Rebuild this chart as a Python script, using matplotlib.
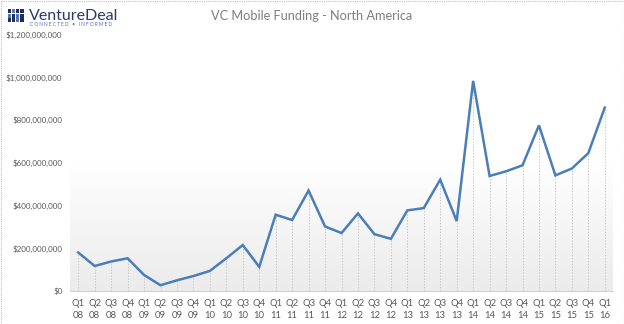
import numpy as np
import matplotlib
matplotlib.use("Agg")
import matplotlib.pyplot as plt
from matplotlib.patches import Rectangle
from matplotlib.ticker import FuncFormatter
from matplotlib.colors import LinearSegmentedColormap

quarters = ["Q1\n08", "Q2\n08", "Q3\n08", "Q4\n08",
            "Q1\n09", "Q2\n09", "Q3\n09", "Q4\n09",
            "Q1\n10", "Q2\n10", "Q3\n10", "Q4\n10",
            "Q1\n11", "Q2\n11", "Q3\n11", "Q4\n11",
            "Q1\n12", "Q2\n12", "Q3\n12", "Q4\n12",
            "Q1\n13", "Q2\n13", "Q3\n13", "Q4\n13",
            "Q1\n14", "Q2\n14", "Q3\n14", "Q4\n14",
            "Q1\n15", "Q2\n15", "Q3\n15", "Q4\n15",
            "Q1\n16"]
funding = [180e6, 117e6, 138e6, 153e6,
           75e6, 27e6, 50e6, 70e6,
           94e6, 153e6, 215e6, 113e6,
           357e6, 332e6, 470e6, 302e6,
           271e6, 363e6, 266e6, 244e6,
           377e6, 388e6, 521e6, 327e6,
           983e6, 538e6, 560e6, 588e6,
           775e6, 541e6, 573e6, 645e6,
           858e6]
y_ticks = [0, 200e6, 400e6, 600e6, 800e6, 1000e6, 1200e6]

plt.rcParams['font.family'] = ['Lato', 'DejaVu Sans']

fig = plt.figure(figsize=(6.24, 3.24), dpi=100)
W, H = 624, 324
left, right, bottom, top = 70, 613, 291, 34.5
ax = fig.add_axes([left / W, 1 - bottom / H, (right - left) / W, (bottom - top) / H])

x = np.arange(len(funding))
ax.set_xlim(-0.5, len(funding) - 0.5)
ax.set_ylim(0, 1200e6)

# gradient background: white at top -> light gray at bottom
cmap = LinearSegmentedColormap.from_list("g", ["#ffffff", "#ffffff", "#ebebeb"])
ax.imshow(np.linspace(0, 1, 256).reshape(-1, 1), aspect='auto', cmap=cmap,
          extent=[-0.5, len(funding) - 0.5, 0, 1200e6],
          origin='upper', zorder=0, vmin=0, vmax=1)

ax.vlines(x, 0, funding, colors="#c8c8d0", linewidth=0.7, linestyles=(0, (1.5, 1.5)), zorder=1)
ax.plot(x, funding, color="#4a7ebb", linewidth=1.8, zorder=3, solid_joinstyle='miter')

for s in ['left', 'right', 'top']:
    ax.spines[s].set_visible(False)
ax.spines['bottom'].set_color("#d0d0d0")
ax.spines['bottom'].set_linewidth(0.8)

ax.set_xticks(x)
ax.set_xticklabels(quarters, fontsize=6.8, color="#595959", linespacing=1.45)
ax.set_yticks(y_ticks)
ax.yaxis.set_major_formatter(FuncFormatter(lambda v, p: f"${v:,.0f}"))
ax.tick_params(axis='y', length=0, labelsize=5.8, labelcolor="#595959", pad=5.5)
ax.tick_params(axis='x', length=0, pad=6)

# title
fig.text(312 / W, 1 - 16 / H, "VC Mobile Funding - North America", ha='center', va='center',
         fontsize=9.2, color="#7f7f7f")

# logo
logo_ax = fig.add_axes([0, 0, 1, 1], facecolor='none')
logo_ax.set_xlim(0, W)
logo_ax.set_ylim(H, 0)
logo_ax.axis('off')
pattern = [[1, 0, 1, 1], [0, 1, 0, 1], [1, 1, 0, 1]]
for i in range(3):
    for j in range(4):
        c = "#1f2f5c" if pattern[i][j] else "#5a76b5"
        logo_ax.add_patch(Rectangle((7.5 + j * 4.2, 9 + i * 4.7), 3.5, 3.9, color=c, lw=0))
logo_ax.text(29, 15.5, "VentureDeal", fontsize=11.5, color="#2b3a67", va='center', ha='left')
logo_ax.text(30, 24.5, "C O N N E C T E D   •   I N F O R M E D", fontsize=3.4,
             color="#4a67c0", va='center', ha='left')
# dotted border
logo_ax.add_patch(Rectangle((0.5, 0.5), W - 1, H - 1, fill=False, ec="#c0c0c0", lw=0.8,
                            ls=(0, (1, 1))))

fig.savefig("out.png", dpi=100)
